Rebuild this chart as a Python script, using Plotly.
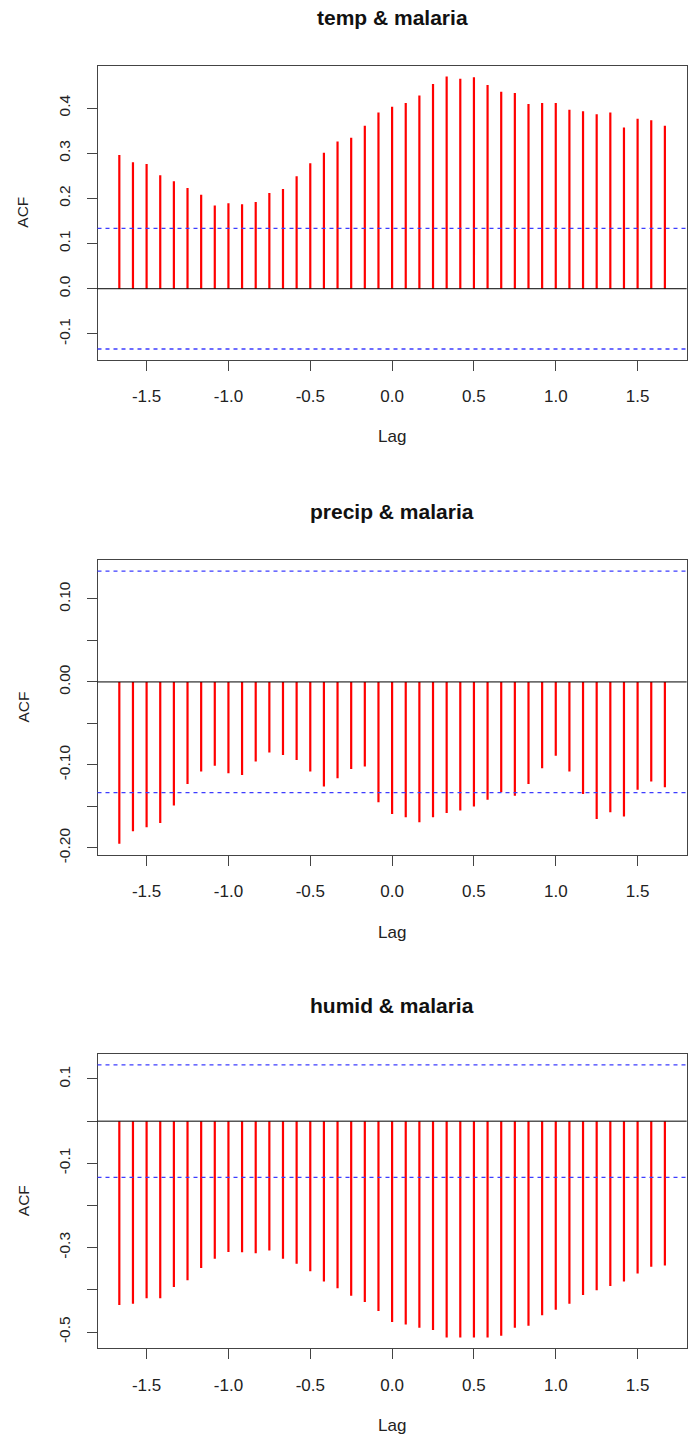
import plotly.graph_objects as go

# Cross-correlations of monthly climate series with malaria cases,
# lags -20..20 months expressed in years.
lag_months = list(range(-20, 21))
lags = [m / 12 for m in lag_months]

temp_ccf = [0.296, 0.280, 0.276, 0.251, 0.238, 0.223, 0.208, 0.184, 0.189, 0.187,
            0.192, 0.212, 0.221, 0.249, 0.278, 0.301, 0.326, 0.334, 0.361, 0.390,
            0.403, 0.411, 0.428, 0.453, 0.470, 0.465, 0.468, 0.451, 0.436, 0.433,
            0.409, 0.411, 0.411, 0.396, 0.393, 0.386, 0.390, 0.357, 0.376, 0.373,
            0.361]

precip_ccf = [-0.195, -0.180, -0.175, -0.170, -0.149, -0.123, -0.108, -0.101, -0.110, -0.112,
              -0.096, -0.085, -0.088, -0.094, -0.108, -0.126, -0.116, -0.105, -0.102, -0.145,
              -0.159, -0.163, -0.169, -0.163, -0.158, -0.155, -0.150, -0.142, -0.133, -0.137,
              -0.123, -0.104, -0.089, -0.108, -0.135, -0.165, -0.157, -0.162, -0.130, -0.120,
              -0.127]

humid_ccf = [-0.436, -0.433, -0.420, -0.420, -0.393, -0.377, -0.348, -0.326, -0.310, -0.311,
             -0.313, -0.307, -0.326, -0.338, -0.356, -0.380, -0.396, -0.414, -0.429, -0.450,
             -0.476, -0.482, -0.490, -0.495, -0.513, -0.513, -0.513, -0.513, -0.509, -0.490,
             -0.485, -0.460, -0.447, -0.433, -0.412, -0.401, -0.391, -0.380, -0.361, -0.345,
             -0.342]

# 95% significance bound, 1.96 / sqrt(n)
CLIM = 0.1334

titles = ["temp & malaria", "precip & malaria", "humid & malaria"]
series = [temp_ccf, precip_ccf, humid_ccf]

x_ticks = [-1.5, -1.0, -0.5, 0.0, 0.5, 1.0, 1.5]
x_tick_text = ["-1.5", "-1.0", "-0.5", "0.0", "0.5", "1.0", "1.5"]

y_ticks = [
    [-0.1, 0.0, 0.1, 0.2, 0.3, 0.4],
    [-0.20, -0.15, -0.10, -0.05, 0.00, 0.05, 0.10],
    [-0.5, -0.4, -0.3, -0.2, -0.1, 0.0, 0.1],
]
y_tick_text = [
    ["-0.1", "0.0", "0.1", "0.2", "0.3", "0.4"],
    ["-0.20", "", "-0.10", "", "0.00", "", "0.10"],
    ["-0.5", "", "-0.3", "", "-0.1", "", "0.1"],
]

W, H = 699, 1438
FONT = "Liberation Sans, Arial, sans-serif"
AX_COLOR = "#444444"

# plot boxes in pixel coordinates (left, right, top, bottom)
box_left, box_right = 97.5, 686.7
box_tops = [65.5, 560.3, 1054.0]
box_h = 294.4

fig = go.Figure()
annotations = []
shapes = []

for i, (vals, title) in enumerate(zip(series, titles)):
    n = i + 1
    xa = "x" if n == 1 else f"x{n}"
    ya = "y" if n == 1 else f"y{n}"

    # vertical spikes from zero to each correlation value
    xs, ys = [], []
    for lg, v in zip(lags, vals):
        xs += [lg, lg, None]
        ys += [0, v, None]
    fig.add_trace(go.Scatter(x=xs, y=ys, mode="lines",
                             line=dict(color="#ff0000", width=2.2),
                             xaxis=xa, yaxis=ya, showlegend=False,
                             hoverinfo="skip"))

    lo = min(min(vals), -CLIM)
    hi = max(max(vals), CLIM)
    pad = 0.04 * (hi - lo)
    yr = [lo - pad, hi + pad]
    xlo, xhi = min(lags), max(lags)
    xpad = 0.04 * (xhi - xlo)

    top = box_tops[i]
    bot = top + box_h
    dom_y = [1 - bot / H, 1 - top / H]
    dom_x = [box_left / W, box_right / W]

    axis_common = dict(showline=True, mirror=True, linecolor=AX_COLOR, linewidth=1,
                       ticks="outside", ticklen=10, tickwidth=1, tickcolor=AX_COLOR,
                       showgrid=False, zeroline=False, automargin=False)
    fig.update_layout(**{
        ("xaxis" if n == 1 else f"xaxis{n}"): dict(
            axis_common, domain=dom_x, range=[xlo - xpad, xhi + xpad],
            tickvals=x_ticks, ticktext=x_tick_text, anchor=ya,
            ticklabelstandoff=11,
            tickfont=dict(family=FONT, size=17, color="#222222")),
        ("yaxis" if n == 1 else f"yaxis{n}"): dict(
            axis_common, domain=dom_y, range=yr,
            tickvals=y_ticks[i], ticktext=y_tick_text[i], anchor=xa,
            tickangle=-90, ticklabelstandoff=10,
            tickfont=dict(family=FONT, size=15.5, color="#222222")),
    })

    # zero line and significance bounds
    for yv, col, dash, wid in [(0, "#000000", "solid", 1),
                               (CLIM, "#3d3dff", "4px,4px", 1.3),
                               (-CLIM, "#3d3dff", "4px,4px", 1.3)]:
        shapes.append(dict(type="line", xref=f"{xa} domain", yref=ya,
                           x0=0, x1=1, y0=yv, y1=yv,
                           line=dict(color=col, width=wid, dash=dash)))

    cx = (box_left + box_right) / 2 / W
    title_y = [17, 512, 1005][i]
    lag_y = [437, 932, 1425][i]
    annotations.append(dict(text=f"<b>{title}</b>", xref="paper", yref="paper",
                            x=cx, y=1 - title_y / H, showarrow=False,
                            xanchor="center", yanchor="middle",
                            font=dict(family=FONT, size=21, color="#111111")))
    annotations.append(dict(text="Lag", xref="paper", yref="paper",
                            x=cx, y=1 - lag_y / H, showarrow=False,
                            xanchor="center", yanchor="middle",
                            font=dict(family=FONT, size=17, color="#222222")))
    annotations.append(dict(text="ACF", xref="paper", yref="paper",
                            x=23 / W, y=1 - (top + box_h / 2) / H, showarrow=False,
                            textangle=-90, xanchor="center", yanchor="middle",
                            font=dict(family=FONT, size=15.5, color="#222222")))

fig.update_layout(width=W, height=H, margin=dict(l=0, r=0, t=0, b=0),
                  paper_bgcolor="white", plot_bgcolor="white",
                  annotations=annotations, shapes=shapes)

fig.write_html("out.html")
